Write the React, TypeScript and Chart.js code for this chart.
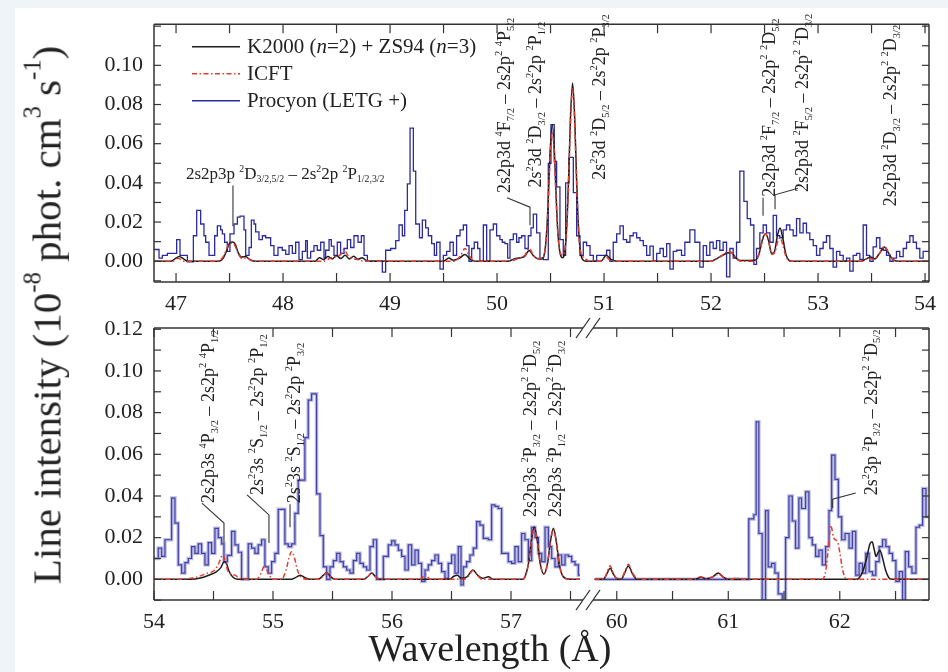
import React, { useEffect, useRef } from 'react';
import { Chart, registerables } from 'chart.js';

Chart.register(...registerables);

const SERIF = '"Liberation Serif", "Times New Roman", serif';
const INK = '#222';
const K2000_COLOR = '#1c1c1c';
const ICFT_COLOR = '#e53a2e';
const PROCYON_COLOR = '#2b2b9e';

// ---------- upper window (46.8 – 54 Å) ----------
const upperXLabels = [47, 48, 49, 50, 51, 52, 53, 54];
const upperXMinor = [47, 47.5, 48, 48.5, 49, 49.5, 50, 50.5, 51, 51.5, 52, 52.5, 53, 53.5, 54];
const upperYLabels = [0, 0.02, 0.04, 0.06, 0.08, 0.1];
const yMinorTicks = [-0.01, 0, 0.01, 0.02, 0.03, 0.04, 0.05, 0.06, 0.07, 0.08, 0.09, 0.1, 0.11, 0.12];

// K2000 (n=2) + ZS94 (n=3) model, upper window [wavelength, intensity]
const k2000Upper: [number, number][] = [
  [46.794, 0], [46.95, 0], [46.99, 0.0012], [47.03, 0.0024], [47.07, 0.0012], [47.11, 0],
  [47.4, 0], [47.44, 0.0015], [47.47, 0.005], [47.5, 0.0092], [47.53, 0.0098], [47.555, 0.0085], [47.58, 0.0045], [47.61, 0.0022], [47.65, 0.0024], [47.69, 0.0008], [47.74, 0],
  [48.3, 0], [48.34, 0.0018], [48.38, 0.0008], [48.42, 0.0024], [48.46, 0.0012], [48.5, 0.0028], [48.54, 0.0014], [48.58, 0.003], [48.62, 0.0012], [48.66, 0.0026], [48.7, 0.001], [48.74, 0.0018], [48.79, 0],
  [49.5, 0], [49.55, 0.0016], [49.59, 0.0005], [49.65, 0.0016], [49.7, 0.0035], [49.75, 0.001], [49.8, 0],
  [50.1, 0], [50.16, 0.0012], [50.22, 0.0018], [50.26, 0.0026], [50.3, 0.0055], [50.34, 0.0028], [50.38, 0.0012], [50.41, 0.001],
  [50.426, 0.0014], [50.446, 0.0048], [50.466, 0.017], [50.481, 0.035], [50.496, 0.056], [50.516, 0.0697], [50.536, 0.056], [50.551, 0.035], [50.566, 0.017], [50.586, 0.005], [50.61, 0.0018],
  [50.636, 0.0062], [50.656, 0.023], [50.671, 0.046], [50.686, 0.073], [50.706, 0.091], [50.726, 0.073], [50.741, 0.046], [50.756, 0.023], [50.776, 0.0062], [50.796, 0.0012], [50.83, 0],
  [50.97, 0], [51.02, 0.003], [51.07, 0.0008], [51.12, 0],
  [52.0, 0], [52.05, 0.0012], [52.1, 0.0028], [52.15, 0.0042], [52.19, 0.0045], [52.23, 0.0018], [52.27, 0.0004],
  [52.41, 0.0005], [52.45, 0.004], [52.48, 0.011], [52.51, 0.014], [52.54, 0.01], [52.565, 0.004], [52.59, 0.0045], [52.62, 0.013], [52.645, 0.017], [52.67, 0.012], [52.7, 0.0035], [52.73, 0.0004], [52.76, 0],
  [53.4, 0], [53.45, 0.0012], [53.49, 0.0022], [53.53, 0.0012], [53.58, 0.0045], [53.62, 0.0073], [53.66, 0.004], [53.7, 0.0008], [53.75, 0], [54.037, 0],
];

// ICFT model, upper window
const icftUpper: [number, number][] = [
  [46.794, 0], [46.97, 0], [47.02, 0.0015], [47.07, 0],
  [47.38, 0], [47.43, 0.0015], [47.46, 0.0045], [47.49, 0.0085], [47.52, 0.0092], [47.55, 0.008], [47.58, 0.004], [47.62, 0.0012], [47.66, 0.0018], [47.7, 0.0004], [47.75, 0],
  [48.38, 0], [48.44, 0.0015], [48.5, 0.0025], [48.54, 0.0035], [48.57, 0.006], [48.6, 0.0035], [48.64, 0.0015], [48.7, 0.0008], [48.76, 0],
  [49.6, 0], [49.66, 0.003], [49.7, 0.0065], [49.74, 0.0028], [49.79, 0],
  [50.12, 0], [50.2, 0.0015], [50.26, 0.003], [50.3, 0.0066], [50.34, 0.003], [50.38, 0.0015],
  [50.426, 0.0012], [50.446, 0.0046], [50.466, 0.016], [50.481, 0.033], [50.496, 0.053], [50.516, 0.066], [50.536, 0.053], [50.551, 0.033], [50.566, 0.016], [50.586, 0.0055], [50.61, 0.003],
  [50.636, 0.0065], [50.656, 0.022], [50.671, 0.045], [50.686, 0.07], [50.706, 0.088], [50.726, 0.07], [50.741, 0.044], [50.756, 0.022], [50.776, 0.0065], [50.8, 0.0025], [50.83, 0.001], [50.87, 0],
  [50.97, 0], [51.02, 0.002], [51.07, 0],
  [52.0, 0], [52.06, 0.0015], [52.12, 0.0035], [52.16, 0.005], [52.2, 0.004], [52.24, 0.0012], [52.28, 0],
  [52.41, 0], [52.45, 0.004], [52.48, 0.0105], [52.51, 0.014], [52.54, 0.0095], [52.57, 0.0035], [52.6, 0.005], [52.625, 0.0105], [52.645, 0.012], [52.67, 0.0085], [52.7, 0.0025], [52.74, 0],
  [53.4, 0], [53.47, 0.0015], [53.52, 0.001], [53.58, 0.0045], [53.62, 0.0075], [53.66, 0.0045], [53.7, 0.001], [53.75, 0], [54.037, 0],
];

// Procyon LETG histogram, upper window [bin start, intensity]
const procyonUpper: [number, number][] = [
  [46.794, 0.006], [46.841, 0.0016], [46.872, 0.003], [46.919, 0.004], [47.006, 0.011], [47.037, 0.003], [47.106, -0.0003], [47.162, 0.013], [47.193, 0.026], [47.23, 0.019],
  [47.261, 0.013], [47.277, 0.0097], [47.308, 0.003], [47.361, 0.013], [47.386, 0.018], [47.417, 0.016], [47.433, 0.014], [47.454, 0.0097], [47.479, 0.005], [47.504, 0.014],
  [47.542, 0.019], [47.573, 0.0225], [47.598, 0.023], [47.635, 0.016], [47.651, 0.003], [47.682, 0.007], [47.704, 0.021], [47.729, 0.019], [47.744, 0.015], [47.775, 0.011],
  [47.807, 0.013], [47.838, 0.012], [47.884, 0.008], [47.915, 0.003], [47.953, 0.007], [47.993, 0.0056], [48.025, 0.0035], [48.056, 0.008], [48.087, 0.004], [48.118, 0.0097],
  [48.149, 0.0008], [48.18, 0.005], [48.211, 0.0105], [48.227, 0.0016], [48.258, 0.005], [48.289, 0.008], [48.32, 0.0056], [48.352, 0.0097], [48.383, 0.0016], [48.398, 0.0056],
  [48.43, 0.011], [48.451, 0.0077], [48.476, 0.003], [48.507, 0.0097], [48.538, 0.004], [48.57, 0.0065], [48.601, 0.011], [48.632, 0.007], [48.663, 0.013], [48.701, 0.0097],
  [48.732, 0.013], [48.757, 0.003], [48.788, 0.0], [48.928, -0.0056], [48.959, 0.0056], [49.006, 0.0065], [49.053, 0.0105], [49.084, 0.0185], [49.115, 0.013], [49.137, 0.026],
  [49.162, 0.0395], [49.187, 0.068], [49.218, 0.046], [49.24, 0.019], [49.275, 0.012], [49.302, 0.021], [49.333, 0.017], [49.358, 0.013], [49.389, 0.009], [49.414, 0.003],
  [49.435, 0.0097], [49.467, -0.004], [49.498, 0.003], [49.529, 0.005], [49.56, 0.0097], [49.591, 0.003], [49.622, 0.013], [49.654, 0.016], [49.685, 0.0185], [49.716, 0.008],
  [49.738, 0.0], [49.763, 0.0065], [49.787, 0.0097], [49.819, 0.0065], [49.84, 0.0], [49.872, 0.0185], [49.903, 0.0], [49.934, 0.016], [49.965, 0.019], [49.996, 0.013],
  [50.027, 0.011], [50.049, 0.0097], [50.074, 0.009], [50.099, 0.0016], [50.121, 0.011], [50.152, 0.014], [50.183, 0.0097], [50.205, 0.012], [50.23, 0.013], [50.261, 0.0065],
  [50.292, 0.013], [50.317, 0.017], [50.339, 0.024], [50.37, 0.0145], [50.401, 0.0016], [50.432, 0.0008], [50.479, 0.05], [50.504, 0.0697], [50.535, 0.051], [50.557, 0.038],
  [50.588, 0.011], [50.619, 0.003], [50.641, 0.04], [50.672, 0.053], [50.713, 0.035], [50.744, 0.013], [50.775, 0.003], [50.806, 0.0097], [50.837, 0.008], [50.869, 0.003],
  [50.9, 0.0], [50.931, 0.003], [50.962, 0.003], [51.024, 0.0056], [51.055, 0.0], [51.086, 0.0097], [51.118, 0.014], [51.149, 0.018], [51.18, 0.011], [51.211, 0.0097],
  [51.242, 0.013], [51.273, 0.0145], [51.305, 0.012], [51.336, 0.0105], [51.367, 0.008], [51.398, 0.003], [51.429, 0.0077], [51.46, 0.0], [51.492, 0.004], [51.523, 0.0065],
  [51.554, 0.0024], [51.585, 0.009], [51.616, -0.004], [51.647, 0.005], [51.679, 0.0056], [51.724, 0.003], [51.755, 0.0097], [51.802, 0.016], [51.849, 0.0097], [51.895, -0.003],
  [51.927, 0.008], [51.958, 0.003], [51.989, 0.0097], [52.02, 0.0065], [52.051, 0.0105], [52.082, 0.0056], [52.113, 0.0097], [52.145, -0.008], [52.176, 0.0065], [52.207, 0.0016],
  [52.238, 0.0097], [52.269, 0.046], [52.307, 0.0306], [52.338, 0.0218], [52.369, 0.0185], [52.4, -0.0016], [52.425, 0.0065], [52.456, 0.0145], [52.487, 0.0185], [52.518, 0.0145],
  [52.55, 0.0097], [52.581, 0.0234], [52.612, 0.013], [52.643, 0.012], [52.674, 0.016], [52.705, 0.0185], [52.736, 0.016], [52.768, 0.013], [52.799, 0.0218], [52.83, 0.0145],
  [52.861, 0.0194], [52.892, 0.0145], [52.923, 0.011], [52.955, 0.008], [52.986, 0.003], [53.017, 0.0065], [53.048, 0.0097], [53.079, 0.013], [53.11, 0.0065], [53.141, -0.003],
  [53.173, 0.005], [53.204, 0.003], [53.235, 0.0], [53.266, 0.0016], [53.297, -0.005], [53.328, 0.003], [53.36, 0.004], [53.391, 0.001], [53.422, 0.0185], [53.453, 0.003],
  [53.484, 0.0], [53.515, 0.0073], [53.546, 0.012], [53.578, 0.0065], [53.609, 0.0056], [53.64, 0.003], [53.671, 0.0], [53.702, 0.0016], [53.733, 0.005], [53.764, 0.0024],
  [53.796, 0.0065], [53.827, 0.0097], [53.858, 0.013], [53.889, 0.0097], [53.92, 0.0065], [53.951, 0.0016], [53.982, 0.005], [54.037, 0.005],
];

// ---------- lower window (54 – 57.6 Å | 59.8 – 62.8 Å) ----------
const lowerLeftLabels = [54, 55, 56, 57];
const lowerLeftMinor = [54, 54.5, 55, 55.5, 56, 56.5, 57, 57.5];
const lowerRightLabels = [60, 61, 62];
const lowerRightMinor = [60, 60.5, 61, 61.5, 62, 62.5];
const lowerYLabels = [0, 0.02, 0.04, 0.06, 0.08, 0.1, 0.12];

const k2000LowerLeft: [number, number][] = [
  [54.0, 0], [54.3, 0], [54.4, 0.0008], [54.46, 0.002], [54.52, 0.0035], [54.56, 0.0055], [54.59, 0.0085], [54.61, 0.0075], [54.63, 0.004], [54.66, 0.0012], [54.7, 0],
  [55.15, 0], [55.2, 0.0012], [55.23, 0.002], [55.27, 0.0008], [55.31, 0],
  [55.38, 0], [55.42, 0.0018], [55.45, 0.0032], [55.48, 0.0015], [55.52, 0],
  [55.76, 0], [55.8, 0.0015], [55.83, 0.003], [55.86, 0.0014], [55.9, 0],
  [56.48, 0], [56.52, 0.0015], [56.55, 0.002], [56.58, 0.0005], [56.63, 0.0012], [56.68, 0.0045], [56.72, 0.002], [56.76, 0.0005], [56.81, 0.0012], [56.85, 0],
  [57.1, 0], [57.12, 0.0016], [57.146, 0.0074], [57.172, 0.019], [57.196, 0.0253], [57.22, 0.019], [57.246, 0.0074], [57.276, 0.0025], [57.306, 0.0074], [57.332, 0.0185], [57.356, 0.0245], [57.38, 0.0185], [57.406, 0.0072], [57.44, 0.0012], [57.5, 0], [57.58, 0],
];

const k2000LowerRight: [number, number][] = [
  [59.8, 0], [59.88, 0], [59.91, 0.0025], [59.94, 0.0053], [59.97, 0.0025], [60.0, 0.0003], [60.04, 0], [60.07, 0.003], [60.105, 0.0064], [60.14, 0.0028], [60.18, 0],
  [60.7, 0], [60.74, 0.0008], [60.76, 0.001], [60.8, 0.0003], [60.86, 0.0012], [60.91, 0.003], [60.96, 0.001], [61.0, 0],
  [62.15, 0], [62.2, 0.003], [62.24, 0.01], [62.27, 0.017], [62.29, 0.018], [62.31, 0.014], [62.325, 0.011], [62.34, 0.0125], [62.36, 0.014], [62.38, 0.011], [62.41, 0.0045], [62.44, 0.0008], [62.47, 0], [62.8, 0],
];

const icftLowerLeft: [number, number][] = [
  [54.0, 0], [54.2, 0], [54.35, 0.001], [54.45, 0.003], [54.5, 0.004], [54.54, 0.007], [54.577, 0.0117], [54.6, 0.0085], [54.62, 0.004], [54.65, 0.0025], [54.68, 0.002], [54.72, 0.0005], [54.76, 0],
  [54.86, 0], [54.9, 0.003], [54.93, 0.0069], [54.96, 0.003], [55.0, 0],
  [55.07, 0], [55.11, 0.0045], [55.135, 0.0105], [55.157, 0.0133], [55.18, 0.0105], [55.205, 0.0045], [55.25, 0.0005], [55.3, 0],
  [55.38, 0], [55.42, 0.0015], [55.45, 0.003], [55.48, 0.0012], [55.52, 0],
  [55.76, 0], [55.8, 0.0015], [55.83, 0.0032], [55.86, 0.0014], [55.9, 0],
  [56.24, 0], [56.28, 0.0025], [56.32, 0],
  [56.6, 0], [56.64, 0.0015], [56.68, 0.0042], [56.72, 0.0018], [56.76, 0],
  [57.1, 0], [57.146, 0.0072], [57.172, 0.0185], [57.196, 0.0245], [57.22, 0.0185], [57.246, 0.0072], [57.276, 0.003], [57.306, 0.0072], [57.332, 0.018], [57.356, 0.024], [57.38, 0.018], [57.406, 0.007], [57.44, 0.0012], [57.5, 0], [57.58, 0],
];

const icftLowerRight: [number, number][] = [
  [59.8, 0], [59.88, 0], [59.91, 0.003], [59.94, 0.0065], [59.97, 0.0028], [60.0, 0.0005], [60.04, 0.0003], [60.07, 0.0035], [60.105, 0.0072], [60.14, 0.0032], [60.18, 0.0005], [60.24, 0],
  [60.7, 0], [60.75, 0.0012], [60.8, 0.0003], [60.86, 0.0012], [60.91, 0.0025], [60.96, 0.0008], [61.03, 0], [61.07, 0.0008], [61.11, 0],
  [61.84, 0], [61.87, 0.003], [61.89, 0.011], [61.905, 0.02], [61.918, 0.026], [61.93, 0.024], [61.945, 0.02], [61.96, 0.019], [61.98, 0.018], [62.0, 0.013], [62.02, 0.006], [62.045, 0.001], [62.07, 0], [62.8, 0],
];

const procyonLowerLeft: [number, number][] = [
  [54.0, 0.01], [54.036, 0.015], [54.064, 0.011], [54.092, 0.019], [54.148, 0.039], [54.176, 0.027], [54.204, 0.007], [54.232, 0.003], [54.26, 0.008], [54.288, 0.01],
  [54.316, 0.0157], [54.344, 0.0125], [54.372, 0.017], [54.4, 0.0125], [54.428, 0.007], [54.456, 0.0176], [54.484, 0.0125], [54.512, 0.0245], [54.54, 0.02], [54.568, 0.017],
  [54.588, 0.0085], [54.616, 0.0115], [54.652, 0.023], [54.68, 0.0165], [54.708, 0.013], [54.736, 0.0], [54.792, 0.017], [54.82, 0.015], [54.848, 0.0125], [54.876, 0.0165],
  [54.904, 0.019], [54.932, 0.006], [54.96, 0.003], [54.988, 0.0085], [55.016, 0.0125], [55.044, 0.0336], [55.1, 0.017], [55.128, 0.0157], [55.156, 0.017], [55.184, 0.0317],
  [55.212, 0.0476], [55.268, 0.068], [55.296, 0.086], [55.324, 0.089], [55.366, 0.041], [55.395, 0.021], [55.423, 0.006], [55.451, 0.0], [55.479, 0.006], [55.507, 0.009],
  [55.535, 0.0125], [55.563, 0.0085], [55.591, 0.006], [55.619, 0.0045], [55.647, 0.003], [55.675, 0.009], [55.703, 0.0125], [55.731, 0.0077], [55.759, 0.006], [55.787, 0.0045],
  [55.815, 0.0157], [55.843, 0.019], [55.871, 0.0], [55.927, 0.011], [55.969, 0.0165], [55.997, 0.0185], [56.025, 0.0165], [56.053, 0.014], [56.081, 0.011], [56.109, 0.0045],
  [56.137, 0.0165], [56.165, 0.007], [56.193, 0.014], [56.221, 0.0077], [56.249, -0.001], [56.277, 0.0045], [56.305, 0.007], [56.333, 0.009], [56.361, 0.0117], [56.389, 0.0077],
  [56.417, 0.0037], [56.445, 0.0005], [56.473, 0.0077], [56.501, 0.0117], [56.529, 0.003], [56.557, 0.0157], [56.58, -0.0027], [56.599, 0.006], [56.627, 0.0085], [56.655, 0.0117],
  [56.683, 0.015], [56.711, 0.0277], [56.739, 0.026], [56.767, 0.0197], [56.809, 0.019], [56.837, 0.0357], [56.865, 0.035], [56.893, 0.034], [56.921, 0.0125], [56.977, 0.0085],
  [57.005, 0.0077], [57.033, 0.0157], [57.061, 0.0085], [57.089, 0.022], [57.117, 0.019], [57.146, 0.009], [57.174, 0.025], [57.202, 0.02], [57.23, 0.0125], [57.258, 0.0085],
  [57.286, 0.025], [57.314, 0.0157], [57.342, 0.01], [57.37, 0.006], [57.398, 0.0117], [57.426, 0.007], [57.454, 0.0117], [57.482, 0.011], [57.51, 0.0085], [57.538, 0.007],
  [57.566, 0.002], [57.58, 0.002],
];

const procyonLowerRight: [number, number][] = [
  [59.805, 0.0], [61.184, 0.029], [61.229, 0.031], [61.25, 0.0756], [61.274, 0.022], [61.304, -0.0099], [61.334, 0.033], [61.358, 0.006], [61.388, 0.0077], [61.418, 0.003],
  [61.448, -0.007], [61.484, -0.012], [61.514, 0.02], [61.544, 0.04], [61.574, 0.028], [61.603, 0.015], [61.633, 0.039], [61.657, 0.034], [61.693, 0.042], [61.723, 0.02],
  [61.753, 0.0165], [61.783, 0.011], [61.813, 0.014], [61.843, 0.007], [61.873, 0.0157], [61.903, 0.033], [61.927, 0.0596], [61.957, 0.048], [61.987, 0.03], [62.017, 0.019],
  [62.047, 0.022], [62.083, 0.015], [62.113, 0.023], [62.143, 0.002], [62.173, 0.0077], [62.203, 0.003], [62.233, 0.0125], [62.263, 0.0037], [62.293, 0.002], [62.323, 0.0085],
  [62.353, 0.0157], [62.383, 0.019], [62.413, 0.0157], [62.443, 0.0125], [62.473, 0.009], [62.503, -0.001], [62.533, 0.0037], [62.563, -0.012], [62.587, 0.0133], [62.617, 0.006],
  [62.647, 0.003], [62.683, 0.025], [62.713, 0.026], [62.743, 0.0436], [62.773, 0.03], [62.8, 0.03],
];

// ---------- line identifications ----------
// {^..} superscript, {_..} subscript; anchor = start of the text baseline
type Note = { axis: string; text: string; x: number; y: number; rot: boolean };
type Leader = { axis: string; pts: [number, number][] };

const upperNotes: Note[] = [
  { axis: 'x', text: '2s2p3p {^2}D{_3/2,5/2} – 2s{^2}2p {^2}P{_1/2,3/2}', x: 47.093, y: 0.0421, rot: false },
  { axis: 'x', text: '2s2p3d {^4}F{_7/2} – 2s2p{^2} {^4}P{_5/2}', x: 50.121, y: 0.0348, rot: true },
  { axis: 'x', text: '2s{^2}3d {^2}D{_3/2} – 2s{^2}2p {^2}P{_1/2}', x: 50.411, y: 0.0377, rot: true },
  { axis: 'x', text: '2s{^2}3d {^2}D{_5/2} – 2s{^2}2p {^2}P{_3/2}', x: 51.009, y: 0.0416, rot: true },
  { axis: 'x', text: '2s2p3d {^2}F{_7/2} – 2s2p{^2} {^2}D{_5/2}', x: 52.598, y: 0.0329, rot: true },
  { axis: 'x', text: '2s2p3d {^2}F{_5/2} – 2s2p{^2} {^2}D{_3/2}', x: 52.906, y: 0.0353, rot: true },
  { axis: 'x', text: '2s2p3d {^2}D{_3/2} – 2s2p{^2} {^2}D{_3/2}', x: 53.729, y: 0.0281, rot: true },
];
const upperLeaders: Leader[] = [
  { axis: 'x', pts: [[47.532, 0.0387], [47.532, 0.0179]] },
  { axis: 'x', pts: [[50.093, 0.0324], [50.308, 0.0276], [50.308, 0.0184]] },
  { axis: 'x', pts: [[52.486, 0.0324], [52.486, 0.0232]] },
  { axis: 'x', pts: [[52.813, 0.0373], [52.598, 0.0339], [52.598, 0.0266]] },
];

const lowerNotes: Note[] = [
  { axis: 'xL', text: '2s2p3s {^4}P{_3/2} – 2s2p{^2} {^4}P{_1/2}', x: 54.504, y: 0.0366, rot: true },
  { axis: 'xL', text: '2s{^2}3s {^2}S{_1/2} – 2s{^2}2p {^2}P{_1/2}', x: 54.916, y: 0.0405, rot: true },
  { axis: 'xL', text: '2s{^2}3s {^2}S{_1/2} – 2s{^2}2p {^2}P{_3/2}', x: 55.227, y: 0.0365, rot: true },
  { axis: 'xL', text: '2s2p3s {^2}P{_3/2} – 2s2p{^2} {^2}D{_5/2}', x: 57.21, y: 0.0299, rot: true },
  { axis: 'xL', text: '2s2p3s {^2}P{_1/2} – 2s2p{^2} {^2}D{_3/2}', x: 57.42, y: 0.0299, rot: true },
  { axis: 'xR', text: '2s{^2}3p {^2}P{_3/2} – 2s2p{^2} {^2}D{_5/2}', x: 62.332, y: 0.0404, rot: true },
];
const lowerLeaders: Leader[] = [
  { axis: 'xL', pts: [[54.403, 0.0366], [54.588, 0.027], [54.588, 0.0174]] },
  { axis: 'xL', pts: [[54.782, 0.0405], [54.966, 0.0309], [54.966, 0.0174]] },
  { axis: 'xL', pts: [[55.143, 0.036], [55.143, 0.025]] },
  { axis: 'xR', pts: [[62.143, 0.0414], [61.936, 0.0385], [61.936, 0.0342]] },
];

const legendRows: { color: string; dash: number[]; parts: [string, boolean][] }[] = [
  { color: K2000_COLOR, dash: [], parts: [['K2000 (', false], ['n', true], ['=2) + ZS94 (', false], ['n', true], ['=3)', false]] },
  { color: ICFT_COLOR, dash: [5, 2.5, 1.5, 2.5], parts: [['ICFT', false]] },
  { color: PROCYON_COLOR, dash: [], parts: [['Procyon (LETG +)', false]] },
];

// ---------- drawing helpers ----------
function stroke(ctx: CanvasRenderingContext2D, pts: [number, number][]) {
  ctx.beginPath();
  pts.forEach(([x, y], i) => (i ? ctx.lineTo(x, y) : ctx.moveTo(x, y)));
  ctx.stroke();
}

function parseRich(s: string) {
  const out: { t: string; k: number }[] = [];
  const re = /\{([\^_])([^}]*)\}/g;
  let last = 0;
  let m: RegExpExecArray | null;
  while ((m = re.exec(s))) {
    if (m.index > last) out.push({ t: s.slice(last, m.index), k: 0 });
    out.push({ t: m[2], k: m[1] === '^' ? 1 : -1 });
    last = re.lastIndex;
  }
  if (last < s.length) out.push({ t: s.slice(last), k: 0 });
  return out;
}

function drawRich(ctx: CanvasRenderingContext2D, s: string, x: number, y: number, size: number, angle: number) {
  ctx.save();
  ctx.translate(x, y);
  ctx.rotate(angle);
  ctx.textBaseline = 'alphabetic';
  ctx.textAlign = 'left';
  let cx = 0;
  for (const seg of parseRich(s)) {
    const fs = seg.k === 0 ? size : size * 0.58;
    ctx.font = `${fs}px ${SERIF}`;
    const dy = seg.k === 1 ? -size * 0.42 : seg.k === -1 ? size * 0.2 : 0;
    ctx.fillText(seg.t, cx, dy);
    cx += ctx.measureText(seg.t).width;
  }
  ctx.restore();
}

const framePlugin = {
  id: 'frameTicks',
  afterDatasetsDraw(chart: any, _args: unknown, opts: any) {
    const { ctx, chartArea: a } = chart;
    const ys = chart.scales.y;
    ctx.save();
    ctx.strokeStyle = '#333';
    ctx.lineWidth = 1.2;
    for (const v of yMinorTicks) {
      const py = ys.getPixelForValue(v);
      if (py < a.top - 0.5 || py > a.bottom + 0.5) continue;
      stroke(ctx, [[a.left, py], [a.left + 7, py]]);
      stroke(ctx, [[a.right - 7, py], [a.right, py]]);
    }
    for (const [id, vals] of opts.xMinor as [string, number[]][]) {
      const s = chart.scales[id];
      for (const v of vals) {
        const px = s.getPixelForValue(v);
        stroke(ctx, [[px, a.bottom], [px, a.bottom - 9]]);
        stroke(ctx, [[px, a.top], [px, a.top + 9]]);
      }
    }
    ctx.lineWidth = 1.5;
    stroke(ctx, [[a.left, a.top], [a.left, a.bottom]]);
    stroke(ctx, [[a.right, a.top], [a.right, a.bottom]]);
    if (opts.breakAfter) {
      const c = chart.scales[opts.breakAfter].right;
      for (const yy of [a.top, a.bottom]) {
        stroke(ctx, [[a.left, yy], [c - 5, yy]]);
        stroke(ctx, [[c + 5, yy], [a.right, yy]]);
        ctx.lineWidth = 1.3;
        for (const dx of [-5, 5]) stroke(ctx, [[c + dx - 7, yy + 10], [c + dx + 7, yy - 10]]);
        ctx.lineWidth = 1.5;
      }
    } else {
      stroke(ctx, [[a.left, a.top], [a.right, a.top]]);
      stroke(ctx, [[a.left, a.bottom], [a.right, a.bottom]]);
    }
    ctx.restore();
  },
};

const notesPlugin = {
  id: 'lineIds',
  afterDatasetsDraw(chart: any, _args: unknown, opts: any) {
    const { ctx } = chart;
    const ys = chart.scales.y;
    ctx.save();
    ctx.strokeStyle = '#333';
    ctx.lineWidth = 1.1;
    ctx.fillStyle = INK;
    for (const ld of opts.leaders as Leader[]) {
      const xs = chart.scales[ld.axis];
      stroke(ctx, ld.pts.map(([w, v]) => [xs.getPixelForValue(w), ys.getPixelForValue(v)] as [number, number]));
    }
    for (const n of opts.notes as Note[]) {
      const xs = chart.scales[n.axis];
      drawRich(ctx, n.text, xs.getPixelForValue(n.x), ys.getPixelForValue(n.y), n.rot ? 18 : 17, n.rot ? -Math.PI / 2 : 0);
    }
    ctx.restore();
  },
};

const keyPlugin = {
  id: 'seriesKey',
  afterDatasetsDraw(chart: any) {
    const { ctx, chartArea: a } = chart;
    ctx.save();
    legendRows.forEach((r, i) => {
      const yl = a.top + 22.5 + i * 27;
      ctx.strokeStyle = r.color;
      ctx.lineWidth = 1.5;
      ctx.setLineDash(r.dash);
      stroke(ctx, [[a.left + 38, yl], [a.left + 86, yl]]);
      ctx.setLineDash([]);
      ctx.fillStyle = INK;
      ctx.textBaseline = 'alphabetic';
      let x = a.left + 93;
      for (const [t, it] of r.parts) {
        ctx.font = `${it ? 'italic ' : ''}21px ${SERIF}`;
        ctx.fillText(t, x, yl + 6.5);
        x += ctx.measureText(t).width;
      }
    });
    ctx.restore();
  },
};

const pts = (arr: [number, number][]) => arr.map(([x, y]) => ({ x, y }));

const modelLine = (label: string, data: [number, number][], color: string, dash: number[], xAxisID: string) => ({
  label,
  data: pts(data),
  xAxisID,
  yAxisID: 'y',
  borderColor: color,
  borderWidth: 1.5,
  borderDash: dash,
  pointRadius: 0,
  fill: false,
  cubicInterpolationMode: 'monotone',
});

// each point holds its value until the next bin edge
const histLine = (label: string, data: [number, number][], color: string, width: number, xAxisID: string) => ({
  label,
  data: pts(data),
  xAxisID,
  yAxisID: 'y',
  borderColor: color,
  borderWidth: width,
  pointRadius: 0,
  fill: false,
  stepped: 'before',
});

const tickFont = { family: SERIF, size: 22 };

const xAxis = (min: number, max: number, labels: number[], extra: any = {}) => ({
  type: 'linear',
  min,
  max,
  bounds: 'data',
  afterBuildTicks: (s: any) => {
    s.ticks = labels.map((v) => ({ value: v }));
  },
  grid: { display: false, drawTicks: false },
  border: { display: false },
  ticks: { font: tickFont, color: INK, padding: 9, autoSkip: false, maxRotation: 0, callback: (v: any) => String(v) },
  ...extra,
});

const yAxis = (min: number, max: number, labels: number[]) => ({
  type: 'linear',
  position: 'left',
  min,
  max,
  bounds: 'data',
  afterBuildTicks: (s: any) => {
    s.ticks = labels.map((v) => ({ value: v }));
  },
  afterFit: (s: any) => {
    s.width = 154;
  },
  grid: { display: false, drawTicks: false },
  border: { display: false },
  ticks: { font: tickFont, color: INK, padding: 11, callback: (v: any) => Number(v).toFixed(2) },
});

function upperConfig(): any {
  return {
    type: 'line',
    data: {
      datasets: [
        modelLine('ICFT', icftUpper, ICFT_COLOR, [5, 2.5, 1.5, 2.5], 'x'),
        modelLine('K2000 (n=2) + ZS94 (n=3)', k2000Upper, K2000_COLOR, [], 'x'),
        histLine('Procyon (LETG +)', procyonUpper, PROCYON_COLOR, 1.3, 'x'),
      ],
    },
    options: {
      responsive: false,
      animation: false,
      devicePixelRatio: 1,
      layout: { padding: { left: 0, top: 10, right: 19, bottom: 0 } },
      plugins: {
        legend: { display: false },
        tooltip: { enabled: false },
        frameTicks: { xMinor: [['x', upperXMinor]] },
        lineIds: { notes: upperNotes, leaders: upperLeaders },
      },
      scales: {
        x: xAxis(46.794, 54.037, upperXLabels, { position: 'bottom', afterFit: (s: any) => { s.height = 38; } }),
        y: yAxis(-0.0106, 0.121, upperYLabels),
      },
    },
    plugins: [framePlugin, notesPlugin, keyPlugin],
  };
}

function lowerConfig(): any {
  return {
    type: 'line',
    data: {
      datasets: [
        modelLine('ICFT', icftLowerLeft, ICFT_COLOR, [5, 2.5, 1.5, 2.5], 'xL'),
        modelLine('ICFT', icftLowerRight, ICFT_COLOR, [5, 2.5, 1.5, 2.5], 'xR'),
        modelLine('K2000 (n=2) + ZS94 (n=3)', k2000LowerLeft, K2000_COLOR, [], 'xL'),
        modelLine('K2000 (n=2) + ZS94 (n=3)', k2000LowerRight, K2000_COLOR, [], 'xR'),
        histLine('Procyon (LETG +)', procyonLowerLeft, 'rgba(43,43,158,0.85)', 1.2, 'xL'),
        histLine('Procyon (LETG +)', procyonLowerRight, 'rgba(43,43,158,0.85)', 1.2, 'xR'),
        histLine('Procyon halo', procyonLowerLeft, 'rgba(120,120,195,0.5)', 3.5, 'xL'),
        histLine('Procyon halo', procyonLowerRight, 'rgba(120,120,195,0.5)', 3.5, 'xR'),
      ],
    },
    options: {
      responsive: false,
      animation: false,
      devicePixelRatio: 1,
      layout: { padding: { left: 0, top: 28, right: 19, bottom: 0 } },
      plugins: {
        legend: { display: false },
        tooltip: { enabled: false },
        frameTicks: { xMinor: [['xL', lowerLeftMinor], ['xR', lowerRightMinor]], breakAfter: 'xL' },
        lineIds: { notes: lowerNotes, leaders: lowerLeaders },
      },
      scales: {
        xL: xAxis(54, 57.647, lowerLeftLabels, {
          position: 'bottom', stack: 'wavelength', stackWeight: 434, afterFit: (s: any) => { s.height = 72; },
        }),
        xR: xAxis(59.742, 62.8, lowerRightLabels, {
          position: 'bottom', stack: 'wavelength', stackWeight: 341, afterFit: (s: any) => { s.height = 72; },
        }),
        y: yAxis(-0.0099, 0.1206, lowerYLabels),
      },
    },
    plugins: [framePlugin, notesPlugin],
  };
}

const supStyle: React.CSSProperties = { fontSize: '0.6em', position: 'relative', top: '-0.8em', verticalAlign: 'baseline', lineHeight: 0 };

export default function App() {
  const upperRef = useRef<HTMLCanvasElement>(null);
  const lowerRef = useRef<HTMLCanvasElement>(null);

  useEffect(() => {
    const upper = new Chart(upperRef.current as HTMLCanvasElement, upperConfig());
    const lower = new Chart(lowerRef.current as HTMLCanvasElement, lowerConfig());
    return () => {
      upper.destroy();
      lower.destroy();
    };
  }, []);

  return (
    <div style={{ position: 'absolute', left: 0, top: 0, width: 948, height: 672, background: '#eef4f8', overflow: 'hidden' }}>
      <div style={{ position: 'absolute', left: 15, top: 8, width: 933, height: 664, background: '#ffffff' }} />
      <canvas ref={upperRef} width={948} height={320} style={{ position: 'absolute', left: 0, top: 0, width: 948, height: 320 }} />
      <canvas ref={lowerRef} width={948} height={372} style={{ position: 'absolute', left: 0, top: 300, width: 948, height: 372 }} />
      <div
        style={{
          position: 'absolute', left: 47, top: 315, transform: 'translate(-50%, -50%) rotate(-90deg)',
          whiteSpace: 'nowrap', fontFamily: SERIF, fontSize: 41, color: INK, lineHeight: 1,
        }}
      >
        Line intensity (10<sup style={supStyle}>-8</sup> phot. cm<sup style={supStyle}>3</sup> s<sup style={supStyle}>-1</sup>)
      </div>
      <div
        style={{
          position: 'absolute', left: 490, top: 648, transform: 'translate(-50%, -50%)',
          whiteSpace: 'nowrap', fontFamily: SERIF, fontSize: 38, color: INK, lineHeight: 1,
        }}
      >
        Wavelength (Å)
      </div>
    </div>
  );
}
